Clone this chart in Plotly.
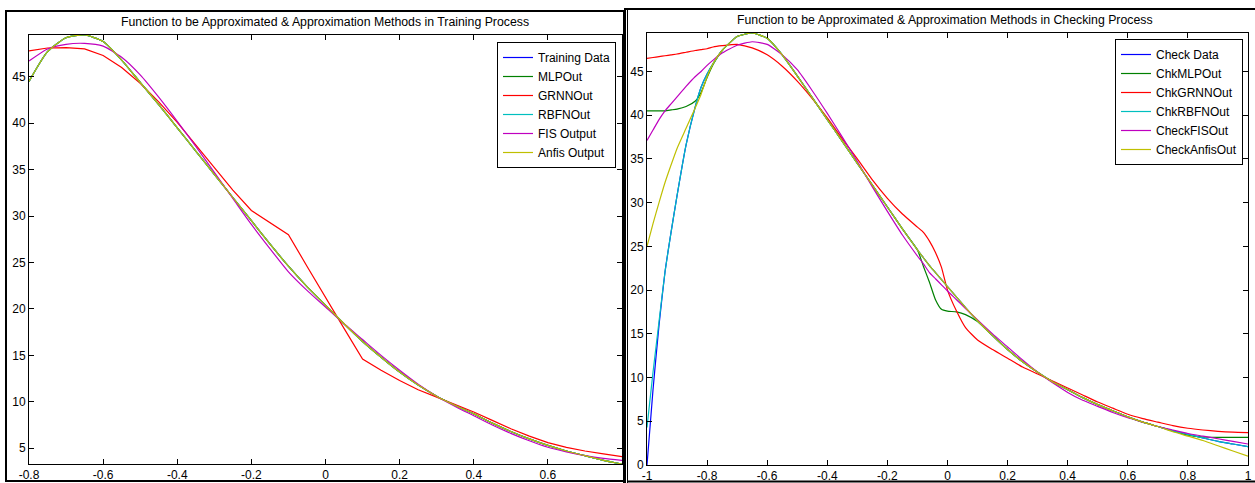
import plotly.graph_objects as go

W, H = 1255, 483

# ---------------- Training panel data ----------------
train_x = [-0.8, -0.75, -0.7, -0.65, -0.6, -0.55, -0.5, -0.45, -0.4, -0.35, -0.3,
           -0.25, -0.2, -0.15, -0.1, -0.05, 0.0, 0.05, 0.1, 0.15, 0.2, 0.25, 0.3,
           0.35, 0.4, 0.45, 0.5, 0.55, 0.6, 0.65, 0.7, 0.75, 0.8]
train_data = [44.5, 47.7, 49.2, 49.5, 48.8, 46.8, 44.4, 42.0, 39.5, 37.0, 34.5,
              32.0, 29.5, 27.0, 24.6, 22.4, 20.4, 18.4, 16.5, 14.8, 13.2, 11.8, 10.6,
              9.6, 8.7, 7.7, 6.8, 6.0, 5.3, 4.7, 4.2, 3.7, 3.3]
mlp_train = [44.5, 47.7, 49.2, 49.5, 48.8, 46.8, 44.4, 42.0, 39.5, 37.0, 34.5,
             32.0, 29.5, 27.0, 24.6, 22.4, 20.4, 18.4, 16.5, 14.8, 13.2, 11.8, 10.6,
             9.6, 8.7, 7.7, 6.8, 6.0, 5.3, 4.7, 4.2, 3.7, 3.3]
grnn_train = [47.8, 48.1, 48.15, 48.0, 47.3, 46.0, 44.3, 42.3, 40.1, 37.7, 35.2,
              32.8, 30.6, 29.3, 28.0, 24.6, 21.2, 17.9, 14.6, 13.4, 12.3, 11.3, 10.5,
              9.7, 8.9, 8.0, 7.1, 6.3, 5.6, 5.1, 4.7, 4.4, 4.1]
rbfn_train = [44.5, 47.7, 49.2, 49.5, 48.8, 46.8, 44.4, 42.0, 39.5, 37.0, 34.5,
              32.0, 29.5, 27.0, 24.6, 22.4, 20.4, 18.4, 16.5, 14.8, 13.2, 11.8, 10.6,
              9.6, 8.7, 7.7, 6.8, 6.0, 5.3, 4.7, 4.2, 3.7, 3.3]
fis_train = [46.7, 48.0, 48.5, 48.6, 48.3, 47.1, 45.2, 42.8, 40.2, 37.5, 34.7,
             31.9, 29.1, 26.5, 24.0, 22.0, 20.2, 18.4, 16.7, 15.0, 13.4, 11.9, 10.6,
             9.5, 8.5, 7.5, 6.6, 5.8, 5.1, 4.6, 4.2, 3.9, 3.7]
anfis_train = [44.5, 47.7, 49.2, 49.5, 48.8, 46.8, 44.4, 42.0, 39.5, 37.0, 34.5,
               32.0, 29.5, 27.0, 24.6, 22.4, 20.4, 18.4, 16.5, 14.8, 13.2, 11.8, 10.6,
               9.6, 8.7, 7.7, 6.8, 6.0, 5.3, 4.7, 4.2, 3.7, 3.3]

# ---------------- Checking panel data ----------------
chk_x = [-1.0, -0.98, -0.96, -0.94, -0.92, -0.9, -0.87, -0.84, -0.82, -0.8, -0.78,
         -0.75, -0.7, -0.65, -0.6, -0.55, -0.5, -0.45, -0.4, -0.35, -0.3, -0.25,
         -0.2, -0.15, -0.1, -0.08, -0.06, -0.04, -0.02, 0.0, 0.03, 0.06, 0.1, 0.15,
         0.2, 0.25, 0.3, 0.35, 0.4, 0.45, 0.5, 0.55, 0.6, 0.65, 0.7, 0.75, 0.8,
         0.85, 0.9, 0.95, 1.0]
chk_data = [0.0, 8.6, 16.0, 22.1, 26.6, 30.8, 36.6, 40.9, 43.2, 44.7, 45.9,
            47.4, 49.0, 49.4, 48.8, 46.9, 44.5, 42.0, 39.5, 37.0, 34.5, 32.0,
            29.5, 27.0, 24.6, 23.7, 22.8, 22.0, 21.2, 20.4, 19.2, 18.0, 16.5, 14.8,
            13.2, 11.8, 10.6, 9.5, 8.6, 7.7, 6.9, 6.2, 5.5, 4.9, 4.4, 3.9, 3.5,
            3.1, 2.7, 2.4, 2.1]
chk_mlp = [40.5, 40.5, 40.5, 40.5, 40.6, 40.7, 41.0, 41.6, 42.6, 44.3, 45.8,
           47.4, 49.0, 49.4, 48.8, 46.9, 44.5, 42.0, 39.5, 37.0, 34.5, 32.0,
           29.5, 27.0, 24.6, 22.7, 20.9, 18.9, 17.8, 17.6, 17.5, 17.2, 16.4, 14.8,
           13.2, 11.8, 10.6, 9.5, 8.6, 7.7, 6.9, 6.2, 5.5, 4.9, 4.4, 3.9, 3.4,
           3.2, 3.15, 3.15, 3.15]
chk_grnn = [46.5, 46.6, 46.7, 46.8, 46.9, 47.0, 47.2, 47.4, 47.5, 47.6, 47.8,
            47.95, 48.1, 47.7, 46.9, 45.6, 43.9, 41.9, 39.7, 37.3, 35.0, 32.6,
            30.5, 28.7, 27.2, 26.6, 25.6, 24.3, 22.6, 20.0, 17.6, 15.7, 14.3, 13.2,
            12.2, 11.2, 10.4, 9.6, 8.8, 8.0, 7.2, 6.5, 5.8, 5.3, 4.9, 4.5, 4.2,
            4.0, 3.85, 3.75, 3.7]
chk_rbfn = [4.3, 10.6, 16.4, 22.1, 26.6, 30.8, 36.6, 40.9, 43.2, 44.7, 45.9,
            47.4, 49.0, 49.4, 48.8, 46.9, 44.5, 42.0, 39.5, 37.0, 34.5, 32.0,
            29.5, 27.0, 24.6, 23.7, 22.8, 22.0, 21.2, 20.4, 19.2, 18.0, 16.5, 14.8,
            13.2, 11.8, 10.6, 9.5, 8.6, 7.7, 6.9, 6.2, 5.5, 4.9, 4.4, 3.9, 3.5,
            3.1, 2.7, 2.4, 2.1]
chk_fis = [37.1, 38.3, 39.5, 40.5, 41.3, 42.1, 43.3, 44.4, 45.0, 45.7, 46.3,
           47.1, 48.0, 48.4, 48.1, 46.9, 45.2, 42.8, 40.2, 37.5, 34.7, 31.8,
           29.0, 26.3, 23.9, 23.0, 22.0, 21.3, 20.6, 19.9, 18.9, 17.9, 16.6, 15.0,
           13.5, 12.0, 10.6, 9.4, 8.3, 7.4, 6.7, 6.0, 5.4, 4.9, 4.4, 4.0, 3.6,
           3.3, 3.0, 2.7, 2.4]
chk_anfis = [25.0, 27.6, 30.0, 32.3, 34.3, 36.2, 38.5, 40.8, 42.4, 44.4, 45.9,
             47.4, 49.0, 49.4, 48.8, 46.9, 44.5, 42.0, 39.5, 37.0, 34.5, 32.0,
             29.5, 27.0, 24.6, 23.7, 22.8, 22.0, 21.2, 20.4, 19.2, 18.0, 16.5, 14.8,
             13.2, 11.8, 10.6, 9.5, 8.6, 7.7, 6.9, 6.2, 5.5, 4.9, 4.4, 3.8, 3.3,
             2.8, 2.2, 1.6, 1.0]

train_names = ["Training Data", "MLPOut", "GRNNOut", "RBFNOut", "FIS Output", "Anfis Output"]
check_names = ["Check Data", "ChkMLPOut", "ChkGRNNOut", "ChkRBFNOut", "CheckFISOut", "CheckAnfisOut"]

left_title = "Function to be Approximated & Approximation Methods in Training Process"
right_title = "Function to be Approximated & Approximation Methods in Checking Process"

left_xticks = [-0.8, -0.6, -0.4, -0.2, 0.0, 0.2, 0.4, 0.6]
left_xtext = ["-0.8", "-0.6", "-0.4", "-0.2", "0", "0.2", "0.4", "0.6"]
left_yticks = [5, 10, 15, 20, 25, 30, 35, 40, 45]
right_xticks = [-1.0, -0.8, -0.6, -0.4, -0.2, 0.0, 0.2, 0.4, 0.6, 0.8, 1.0]
right_xtext = ["-1", "-0.8", "-0.6", "-0.4", "-0.2", "0", "0.2", "0.4", "0.6", "0.8", "1"]
right_yticks = [0, 5, 10, 15, 20, 25, 30, 35, 40, 45]

colors = ["#0000FF", "#008000", "#FF0000", "#00BFBF", "#BF00BF", "#BFBF00"]
FONT = "Liberation Sans, Arial, sans-serif"

fig = go.Figure()

train_series = [train_data, mlp_train, grnn_train, rbfn_train, fis_train, anfis_train]
for name, ys, c in zip(train_names, train_series, colors):
    shape = "linear" if name == "GRNNOut" else "spline"
    fig.add_trace(go.Scatter(x=train_x, y=ys, name=name, mode="lines",
                             line=dict(color=c, width=1.2, shape=shape, smoothing=0.6),
                             xaxis="x", yaxis="y", legend="legend"))

check_series = [chk_data, chk_mlp, chk_grnn, chk_rbfn, chk_fis, chk_anfis]
for name, ys, c in zip(check_names, check_series, colors):
    fig.add_trace(go.Scatter(x=chk_x, y=ys, name=name, mode="lines",
                             line=dict(color=c, width=1.2, shape="spline", smoothing=0.5),
                             xaxis="x2", yaxis="y2", legend="legend2"))

def px(x):
    return x / W

def py(y):
    return 1 - y / H

axis_common = dict(showline=True, linecolor="black", linewidth=1, mirror="ticks",
                   ticks="inside", ticklen=5, tickcolor="black", tickwidth=1,
                   showgrid=False, zeroline=False, automargin=False,
                   tickfont=dict(family=FONT, size=12, color="black"))

fig.update_layout(
    width=W, height=H,
    margin=dict(l=0, r=0, t=0, b=0, pad=0, autoexpand=False),
    paper_bgcolor="white", plot_bgcolor="white",
    font=dict(family=FONT, size=12, color="black"),
    xaxis=dict(domain=[px(29), px(622)], range=[-0.8, 0.8], anchor="y",
               tickvals=left_xticks, ticktext=left_xtext, **axis_common),
    yaxis=dict(domain=[py(464), py(35)], range=[3.3, 49.5], anchor="x",
               tickvals=left_yticks, **axis_common),
    xaxis2=dict(domain=[px(647), px(1248)], range=[-1, 1], anchor="y2",
                tickvals=right_xticks, ticktext=right_xtext, **axis_common),
    yaxis2=dict(domain=[py(465), py(33)], range=[0, 49.4], anchor="x2",
                tickvals=right_yticks, **axis_common),
    legend=dict(x=px(616), y=py(42), xanchor="right", yanchor="top",
                bgcolor="white", bordercolor="black", borderwidth=1,
                font=dict(family=FONT, size=12, color="black"),
                tracegroupgap=0, itemwidth=30),
    legend2=dict(x=px(1243), y=py(39), xanchor="right", yanchor="top",
                 bgcolor="white", bordercolor="black", borderwidth=1,
                 font=dict(family=FONT, size=12, color="black"),
                 tracegroupgap=0, itemwidth=30),
    annotations=[
        dict(text=left_title, x=px(325), y=py(22), xref="paper", yref="paper",
             showarrow=False, xanchor="center", yanchor="middle",
             font=dict(family=FONT, size=12.3, color="black")),
        dict(text=right_title, x=px(945), y=py(20), xref="paper", yref="paper",
             showarrow=False, xanchor="center", yanchor="middle",
             font=dict(family=FONT, size=12.3, color="black")),
    ],
    shapes=[
        # left panel frame
        dict(type="rect", xref="paper", yref="paper", x0=px(6), x1=px(624),
             y0=py(481), y1=py(11), line=dict(color="black", width=2)),
        # thick separator
        dict(type="line", xref="paper", yref="paper", x0=px(624.5), x1=px(624.5),
             y0=py(483), y1=py(10), line=dict(color="black", width=3)),
        # right panel frame
        dict(type="line", xref="paper", yref="paper", x0=px(624), x1=px(1255),
             y0=py(9), y1=py(9), line=dict(color="black", width=2)),
        dict(type="line", xref="paper", yref="paper", x0=px(627.5), x1=px(627.5),
             y0=py(483), y1=py(9), line=dict(color="black", width=1)),
        dict(type="line", xref="paper", yref="paper", x0=px(627), x1=px(1255),
             y0=py(481.5), y1=py(481.5), line=dict(color="black", width=2)),
    ],
)

fig.write_html("out.html")
